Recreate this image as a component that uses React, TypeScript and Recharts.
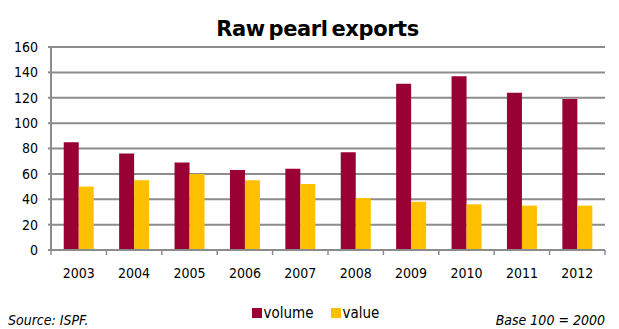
import React from "react";
import { Bar, BarChart, CartesianGrid, XAxis, YAxis } from "recharts";

const YEARS = ["2003", "2004", "2005", "2006", "2007", "2008", "2009", "2010", "2011", "2012"];
const VOLUME = [85, 76, 69, 63, 64, 77, 131, 137, 124, 119];
const VALUE = [50, 55, 60, 55, 52, 41, 38, 36, 35, 35];
const Y_TICKS = [0, 20, 40, 60, 80, 100, 120, 140, 160];
const SERIES = [
  { key: "volume", label: "volume", color: "#990033" },
  { key: "value", label: "value", color: "#ffc000" },
];

const data = YEARS.map((year, i) => ({ year, volume: VOLUME[i], value: VALUE[i] }));

const W = 619;
const H = 329;
const PLOT_LEFT = 51;
const PLOT_RIGHT = 14;
const NARROW = "'DejaVu Sans Condensed', 'Liberation Sans', sans-serif";
const GRID = "#8c8c8c";

/* x ticks sit on category boundaries, like the Excel original */
function YearTick(props: any) {
  const { x, y, payload, index } = props;
  const bw = (W - PLOT_LEFT - PLOT_RIGHT) / YEARS.length;
  const left = x - bw / 2;
  return (
    <g>
      <line x1={left} y1={y - 8} x2={left} y2={y - 3} stroke={GRID} strokeWidth={1.5} />
      {index === YEARS.length - 1 && <line x1={x + bw / 2} y1={y - 8} x2={x + bw / 2} y2={y - 3} stroke={GRID} strokeWidth={1.5} />}
      <text x={x} y={y + 20} textAnchor="middle" fontSize={14} fill="#000" fontFamily={NARROW}>
        {payload.value}
      </text>
    </g>
  );
}

export default function App() {
  return (
    <div style={{ position: "absolute", left: 0, top: 0, width: W, height: H, background: "#fff" }}>
      <div
        style={{
          position: "absolute",
          top: 17,
          left: 8,
          width: W,
          textAlign: "center",
          fontFamily: "'DejaVu Sans', sans-serif",
          fontWeight: 700,
          fontSize: 21,
          letterSpacing: -0.4,
          wordSpacing: -3,
          color: "#000",
        }}
      >
        Raw pearl exports
      </div>
      <BarChart
        width={W}
        height={H}
        data={data}
        margin={{ top: 47, right: PLOT_RIGHT, left: 5, bottom: 49 }}
        barCategoryGap="23%"
        barGap={0}
      >
        <CartesianGrid stroke={GRID} strokeWidth={2} vertical={false} />
        <XAxis dataKey="year" tick={<YearTick />} tickLine={false} axisLine={{ stroke: GRID, strokeWidth: 2 }} interval={0} height={30} />
        <YAxis
          domain={[0, 160]}
          ticks={Y_TICKS}
          interval={0}
          width={PLOT_LEFT - 5}
          tick={{ fontSize: 14, fill: "#000", fontFamily: NARROW }}
          tickLine={{ stroke: GRID, strokeWidth: 2 }}
          tickSize={3}
          tickMargin={10}
          axisLine={{ stroke: GRID, strokeWidth: 2 }}
        />
        {SERIES.map((s) => (
          <Bar key={s.key} dataKey={s.key} name={s.label} fill={s.color} isAnimationActive={false} />
        ))}
      </BarChart>
      <div
        style={{
          position: "absolute",
          left: 6,
          width: W,
          top: 304,
          display: "flex",
          justifyContent: "center",
          gap: 17,
          fontSize: 15,
          fontFamily: NARROW,
        }}
      >
        {SERIES.map((s) => (
          <span key={s.key} style={{ display: "flex", alignItems: "center" }}>
            <span style={{ display: "inline-block", width: 10, height: 10, background: s.color, marginRight: 2 }} />
            {s.label}
          </span>
        ))}
      </div>
      <div style={{ position: "absolute", left: 8, top: 312, fontSize: 14, fontStyle: "italic", fontFamily: NARROW }}>Source: ISPF.</div>
      <div style={{ position: "absolute", right: 14, top: 312, fontSize: 14, fontStyle: "italic", fontFamily: NARROW }}>Base 100 = 2000</div>
    </div>
  );
}
